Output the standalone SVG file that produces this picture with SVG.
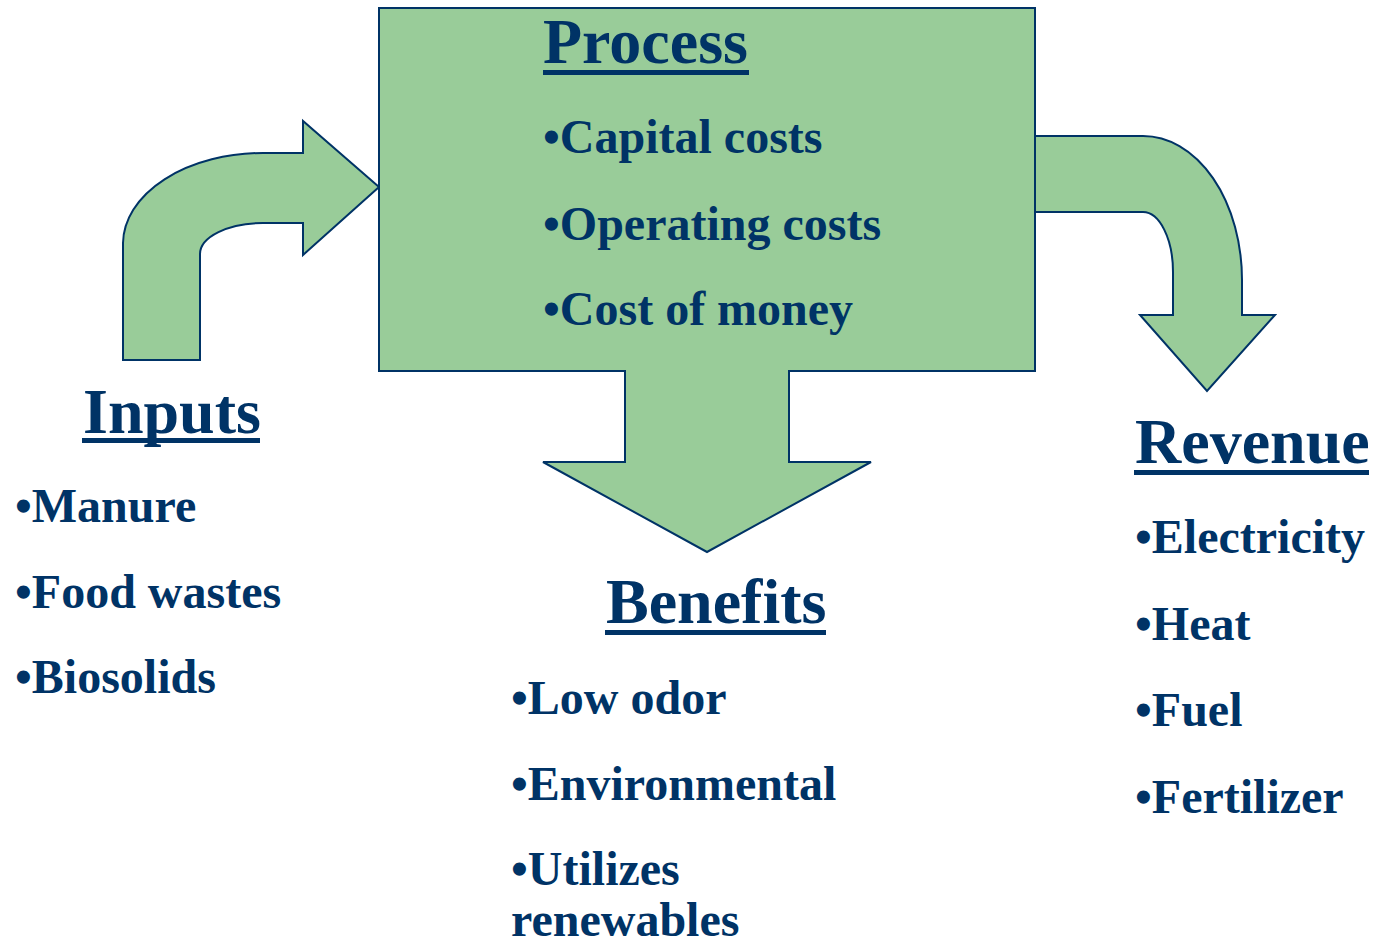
<svg xmlns="http://www.w3.org/2000/svg" width="1378" height="947" viewBox="0 0 1378 947">
<style>
.shape{fill:#99cc99;stroke:#003366;stroke-width:2;stroke-linejoin:miter}
.t{font-family:"Liberation Serif","Times New Roman",serif;font-weight:bold;fill:#003366}
.h{font-size:64px}
.i{font-size:48px}
.ul{fill:#003366}
</style>
<rect width="1378" height="947" fill="#ffffff"/>
<g id="connectors">
<path class="shape" d="M123,360 V243 A140,91 0 0 1 263,153 H303 V121 L379,187 L303,255 V223 H263 A63,31 0 0 0 200,254 V360 Z"/>
<path class="shape" d="M1035,136 H1143 A99,144 0 0 1 1242,280 V315 H1275 L1207,391 L1140,315 H1173 V272 A30,60 0 0 0 1143,212 H1035 Z"/>
</g>
<g id="process">
<path class="shape" d="M379,8 H1035 V371 H789 V462 H871 L707,552 L543,462 H625 V371 H379 Z"/>
<text class="t h" x="543" y="63">Process</text>
<rect class="ul" x="543" y="70" width="206" height="5"/>
<text class="t i" x="543" y="153">•Capital costs</text>
<text class="t i" x="543" y="240">•Operating costs</text>
<text class="t i" x="543" y="325">•Cost of money</text>
</g>
<g id="inputs">
<text class="t h" x="83" y="433">Inputs</text>
<rect class="ul" x="82" y="438" width="178" height="5"/>
<text class="t i" x="15" y="522">•Manure</text>
<text class="t i" x="15" y="608">•Food wastes</text>
<text class="t i" x="15" y="693">•Biosolids</text>
</g>
<g id="benefits">
<text class="t h" x="606" y="623">Benefits</text>
<rect class="ul" x="605" y="630" width="221" height="5"/>
<text class="t i" x="511" y="714">•Low odor</text>
<text class="t i" x="511" y="800">•Environmental</text>
<text class="t i" x="511" y="885">•Utilizes</text>
<text class="t i" x="511" y="936">renewables</text>
</g>
<g id="revenue">
<text class="t h" x="1135" y="463">Revenue</text>
<rect class="ul" x="1134" y="470" width="235" height="5"/>
<text class="t i" x="1135" y="553">•Electricity</text>
<text class="t i" x="1135" y="640">•Heat</text>
<text class="t i" x="1135" y="726">•Fuel</text>
<text class="t i" x="1135" y="813">•Fertilizer</text>
</g>
</svg>
